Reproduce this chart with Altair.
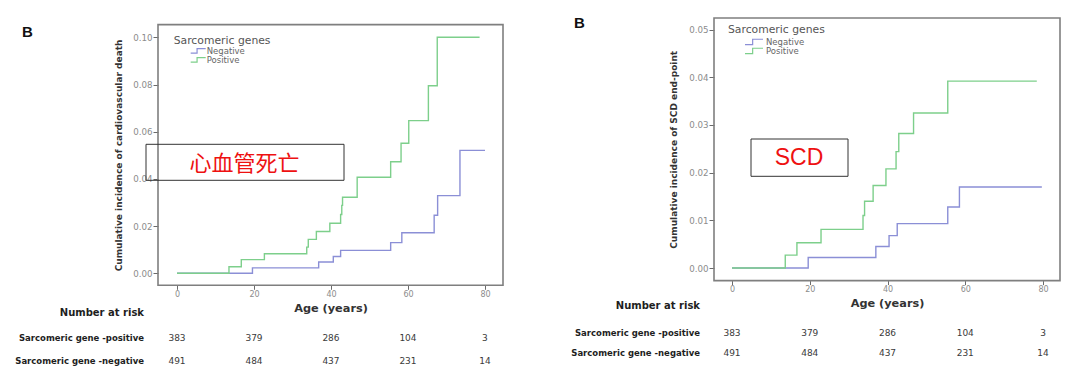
import altair as alt
import pandas as pd

# ---------------- data ----------------
groups = ["Negative", "Positive"]
tick_ages = [0, 20, 40, 60, 80]

# Panel 1: cardiovascular death
cv_pos_age = [0, 13.5, 16.7, 22.7, 33.7, 34.1, 36.2, 39.7, 42.5, 42.8, 43.0, 46.8, 55.5, 58.2, 60.2, 65.3, 67.6, 78.6]
cv_pos_inc = [0, 0.0028, 0.0058, 0.0083, 0.0111, 0.0144, 0.0177, 0.0212, 0.0249, 0.0288, 0.0322, 0.0407, 0.0473, 0.0551, 0.0647, 0.0795, 0.100, 0.100]
cv_neg_age = [0, 19.6, 36.8, 40.6, 42.5, 55.5, 58.4, 66.8, 67.7, 73.5, 80.0]
cv_neg_inc = [0, 0.0023, 0.0048, 0.0071, 0.0097, 0.0130, 0.0172, 0.0246, 0.0329, 0.0521, 0.0521]

# Panel 2: SCD end-point
scd_pos_age = [0, 13.7, 16.7, 22.9, 33.7, 34.1, 36.3, 39.6, 42.2, 42.9, 46.7, 55.5, 78.4]
scd_pos_inc = [0, 0.0027, 0.0053, 0.0081, 0.0110, 0.0140, 0.0173, 0.0208, 0.0244, 0.0282, 0.0325, 0.0392, 0.0392]
scd_neg_age = [0, 19.6, 37.0, 40.4, 42.5, 55.5, 58.5, 79.7]
scd_neg_inc = [0, 0.0022, 0.0045, 0.0068, 0.0093, 0.0128, 0.0170, 0.0170]

cv_yticks = [0, 0.02, 0.04, 0.06, 0.08, 0.10]
scd_yticks = [0, 0.01, 0.02, 0.03, 0.04, 0.05]

risk_pos = [383, 379, 286, 104, 3]
risk_neg = [491, 484, 437, 231, 14]
row_labels = ["Sarcomeric gene -positive", "Sarcomeric gene -negative"]

GREEN = "#7dcf8b"
BLUE = "#8b8fd6"
FRAME = "#7f7f7f"


def lines_df(pos_age, pos_inc, neg_age, neg_inc):
    a = pd.DataFrame({"group": groups[0], "age": neg_age, "inc": neg_inc})
    b = pd.DataFrame({"group": groups[1], "age": pos_age, "inc": pos_inc})
    return pd.concat([a, b], ignore_index=True)


def one(text):
    return pd.DataFrame({"t": [text]})


def panel(df, W, H, top, xdom, ydom, yticks, ytitle, ytx, lg, note, note_font, note_size,
          note_box, note_xy, b_xy, rows_y):
    X = alt.X("age:Q", scale=alt.Scale(domain=xdom, nice=False, zero=False),
              axis=alt.Axis(values=tick_ages, format="d", title="Age (years)",
                            titleFont="DejaVu Sans", titleFontWeight="bold", titleFontSize=11.3,
                            titleColor="#333333", titlePadding=3.8,
                            labelFont="DejaVu Sans", labelFontSize=8, labelColor="#8c8c8c",
                            labelPadding=1, tickSize=4, tickColor="#6a6a6a",
                            domain=False, grid=False, labelFlush=False))
    Y = alt.Y("inc:Q", scale=alt.Scale(domain=ydom, nice=False, zero=False),
              axis=alt.Axis(values=yticks, format=".2f", title=ytitle,
                            titleX=ytx, titleY=(top + H) / 2, titleBaseline="middle",
                            titleFont="DejaVu Sans", titleFontWeight="bold", titleFontSize=9,
                            titleColor="#333333",
                            labelFont="DejaVu Sans", labelFontSize=8.7, labelColor="#8c8c8c",
                            labelPadding=1, tickSize=5, tickColor="#6a6a6a",
                            domain=False, grid=False))
    legend = alt.Legend(title="Sarcomeric genes", orient="none",
                        legendX=lg["x"], legendY=lg["y"],
                        titleFont="DejaVu Sans", titleFontSize=10.8, titleFontWeight="normal",
                        titleColor="#555555", titlePadding=lg["tp"],
                        labelFont="DejaVu Sans", labelFontSize=8.5, labelColor="#666666",
                        symbolType="M-1,0.3H-0.15V-0.3H1",
                        symbolSize=lg["ss"], symbolStrokeWidth=1.2,
                        symbolFillColor="transparent",
                        symbolOffset=lg["so"], labelOffset=lg["lo"],
                        clipHeight=lg["ch"], rowPadding=0, padding=0)
    # plot frame
    frame = alt.Chart(one("frame")).mark_rect(fill="transparent", stroke=FRAME, strokeWidth=1.6).encode(
        x=alt.value(0), x2=alt.value(W), y=alt.value(top), y2=alt.value(H))
    lines = alt.Chart(df).mark_line(interpolate="step-after", strokeWidth=1.4).encode(
        x=X, y=Y,
        color=alt.Color("group:N", scale=alt.Scale(domain=groups, range=[BLUE, GREEN]), legend=legend),
    )
    layers = [frame, lines]
    y_head, y_pos, y_neg = rows_y
    # risk table numbers through the x scale
    for vals, yy in [(risk_pos, y_pos), (risk_neg, y_neg)]:
        d = pd.DataFrame({"age": tick_ages, "n": [str(v) for v in vals]})
        layers.append(alt.Chart(d).mark_text(font="DejaVu Sans", fontSize=9, color="#3a3a3a",
                                             align="center", baseline="middle").encode(
            x=X, y=alt.value(yy), text="n:N"))
    # row labels
    for lab, yy, fs in zip(["Number at risk"] + row_labels, [y_head, y_pos, y_neg], [10, 8.5, 8.5]):
        layers.append(alt.Chart(one(lab)).mark_text(
            font="DejaVu Sans", fontWeight="bold", fontSize=fs, color="#1e1e1e",
            align="right", baseline="middle").encode(
            x=alt.value(-14), y=alt.value(yy), text="t:N"))
    # panel letter
    layers.append(alt.Chart(one("B")).mark_text(
        font="Liberation Sans", fontWeight="bold", fontSize=15, color="#111111",
        align="center", baseline="middle").encode(
        x=alt.value(b_xy[0]), y=alt.value(b_xy[1]), text="t:N"))
    # annotation box + text
    layers.append(alt.Chart(one(note)).mark_rect(
        fill="transparent", stroke="#333333", strokeWidth=1).encode(
        x=alt.value(note_box[0]), x2=alt.value(note_box[1]),
        y=alt.value(note_box[2]), y2=alt.value(note_box[3])))
    layers.append(alt.Chart(one(note)).mark_text(
        font=note_font, fontSize=note_size, color="#ee1111", align="center", baseline="middle").encode(
        x=alt.value(note_xy[0]), y=alt.value(note_xy[1]), text="t:N"))
    # invisible spacer fixing the cell bounds
    layers.append(alt.Chart(one("spacer")).mark_rule(strokeOpacity=0, strokeWidth=0.1).encode(
        x=alt.value(-148), x2=alt.value(W + 3), y=alt.value(-5.7)))
    return alt.layer(*layers).properties(width=W, height=H)


# left panel: frame from 6.6px below the group top (both groups share their top)
left = panel(lines_df(cv_pos_age, cv_pos_inc, cv_neg_age, cv_neg_inc), 345, 267.3, 6.6,
             [-4.935, 84.68], [-0.00508, 0.10818], cv_yticks,
             "Cumulative incidence of cardiovascular death", -40,
             dict(x=15.7, y=16.8, tp=1.3, ss=225, so=16, lo=0, ch=8),
             "心血管死亡", "Noto Sans CJK SC", 22, (-12, 186, 126.3, 162.3), (86.5, 146.1),
             (-130.5, 14), (295, 320.3, 342.6))

right = panel(lines_df(scd_pos_age, scd_pos_inc, scd_neg_age, scd_neg_inc), 346, 262.6, 0,
              [-4.63, 84.37], [-0.00264, 0.05243], scd_yticks,
              "Cumulative incidence of SCD end-point", -41,
              dict(x=14, y=6.3, tp=3.3, ss=324, so=16, lo=2, ch=7),
              "SCD", "Liberation Sans", 23, (37, 134, 121, 158.3), (85, 140.3),
              (-134.5, 5), (288.3, 315, 335))

chart = alt.hconcat(left, right, spacing=58).resolve_scale(
    color="independent", x="independent", y="independent"
).properties(
    padding={"left": 1, "top": 3, "right": 0, "bottom": 0},
    background="white",
).configure_view(stroke="transparent")

chart.save("out.html", embed_options={"renderer": "svg", "actions": False})
